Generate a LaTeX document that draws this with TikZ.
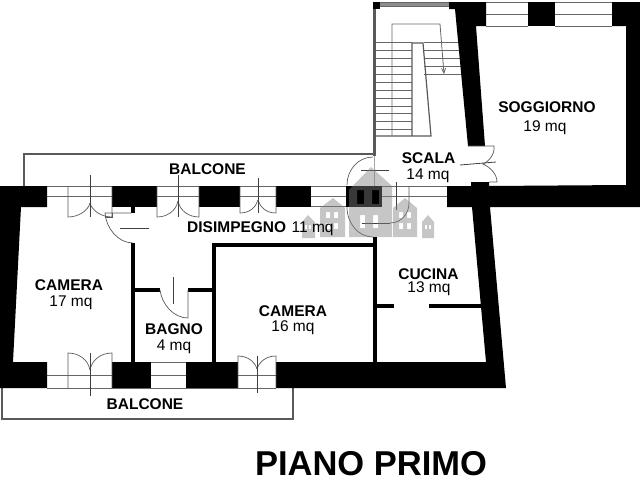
\documentclass[tikz,border=0pt]{standalone}
\usepackage{fontspec}
\setmainfont{Liberation Sans}
\usetikzlibrary{arrows}
\begin{document}
\begin{tikzpicture}[x=1pt,y=-1pt]
        \tikzset{wall/.style = {fill=black}}
        \tikzset{thinwall/.style = {line width=4pt,draw=black}}
        \tikzset{win/.style = {line width=0.8pt,draw=black!60}}
        \tikzset{balc/.style = {line width=2pt,draw=black!65}}
        \tikzset{door/.style = {line width=0.7pt,draw=black!65}}
        \tikzset{handle/.style = {line width=0.8pt,draw=black!75}}
        \tikzset{stair/.style = {line width=0.8pt,draw=black!60}}
        \tikzset{house/.style = {fill=black!50,fill opacity=0.45,even odd rule}}
        \tikzset{roomname/.style = {anchor=base,inner sep=0pt,font=\fontsize{15.5}{15.5}\selectfont\bfseries}}
        \tikzset{roomarea/.style = {anchor=base,inner sep=0pt,font=\fontsize{15.5}{15.5}\selectfont}}
        \useasboundingbox (0,0) rectangle (640,480);
        %balconies
        \draw[balc] (24,186) -- (24,154) -- (374,154);
        \draw[balc] (2,388) -- (2,419) -- (293,419) -- (293,388);
        \draw[balc,line width=3pt] (374.5,2) -- (374.5,156);
        \draw[line width=0.8pt,draw=black!35] (374.5,156) -- (374.5,186);
        %stairs
        \foreach \ty in {42,50,58,66,74,82,90,98,106,113,121,129}
            \draw[stair] (376,\ty) -- (412,\ty);
        \foreach \ty in {42,50,58,66,74}
            \draw[stair] (424,\ty) -- (461,\ty);
        \draw[balc,line width=1.2pt] (376,136) -- (431,136) -- (423,43) -- (412,43) -- (412,136);
        \draw[stair,->,>=angle 45] (392,136) -- (392,24) -- (440,24) -- (444,74);
        \fill[black!45] (380,2) rectangle (449,6);
        \draw[stair] (380,2) -- (449,2);
        \draw[stair] (380,6) -- (449,6);
        %windows top
        \draw[win] (486,2) -- (528,2) (486,14) -- (528,14) (486,26) -- (528,26);
        \draw[win] (555,2) -- (612,2) (555,14) -- (612,14) (555,26) -- (612,26);
        \draw[win] (47,186) -- (447,186);
        \draw[win] (47,196) -- (447,196);
        \draw[win] (311,206.5) -- (346,206.5);
        %windows bottom
        \draw[win] (47,375) -- (276,375);
        \draw[win] (47,388) -- (276,388);
        \draw[win] (151,362) -- (186,362);
        %walls
        \fill[wall] (0,186) -- (47,186) -- (47,207) -- (21,207) -- (13,362) -- (47,362) -- (47,388) -- (0,388) -- cycle;
        \foreach \xa/\xb in {112/157,199/240,276/311}
            \fill[wall] (\xa,186) rectangle (\xb,207);
        \foreach \xa/\xb in {112/151,186/238}
            \fill[wall] (\xa,362) rectangle (\xb,388);
        \fill[wall] (276,362) -- (486,362) -- (472,207) -- (447,207) -- (447,186) -- (471,186) -- (471,182) -- (489,182) -- (489,186)
            -- (626,185) -- (626,26) -- (612,26) -- (612,2) -- (640,2) -- (640,207) -- (490,207) -- (506,388) -- (276,388) -- cycle;
        \fill[wall] (449,2) -- (486,2) -- (486,26) -- (476,26) -- (485,146) -- (468,146) -- (455,9) -- (449,9) -- cycle;
        \fill[wall] (528,2) rectangle (555,26);
        \fill[wall] (373,2) rectangle (380,9);
        \fill[wall] (346,186) rectangle (382,207);
        \fill[wall] (131,207) rectangle (135,213);
        %inner walls
        \draw[thinwall] (133,243) -- (133,362);
        \draw[thinwall] (135,290) -- (160,290);
        \draw[thinwall] (188,290) -- (212,290);
        \draw[thinwall] (214,362) -- (214,245) -- (375,245);
        \draw[thinwall] (375,237) -- (375,362);
        \draw[thinwall] (377,305.5) -- (394,305.5);
        \draw[thinwall] (429,305.5) -- (481,305.5);
        %doors top
        \foreach \xl/\xm/\xr/\yb/\ym/\yt in {68/90/112/217/203/175,157/178/199/217/201/175,240/258/276/213/200/178}{
            \draw[door] (\xl,186) -- (\xl,\yb) .. controls (\xl+10,\yb) and (\xm-2,\yb-6) .. (\xm,\ym);
            \draw[door] (\xr,186) -- (\xr,\yb) .. controls (\xr-10,\yb) and (\xm+2,\yb-6) .. (\xm,\ym);
            \draw[handle] (\xm,\yt) -- (\xm,\yb);
        }
        %doors bottom
        \foreach \xl/\xm/\xr/\yt/\ym/\yb in {68/90/112/353/370/396,238/257/276/356/369/393}{
            \draw[door] (\xl,388) -- (\xl,\yt) .. controls (\xl+10,\yt) and (\xm-2,\yt+6) .. (\xm,\ym);
            \draw[door] (\xr,388) -- (\xr,\yt) .. controls (\xr-10,\yt) and (\xm+2,\yt+6) .. (\xm,\ym);
            \draw[handle] (\xm,\yt) -- (\xm,\yb);
        }
        %door disimpegno
        \draw[door] (131,213) -- (105,213) .. controls (106,228) and (118,243) .. (133,243);
        \draw[door] (105,217) -- (112,217) -- (112,213);
        \draw[handle] (120,228) -- (149,228);
        %door bagno
        \draw[door] (160,290) .. controls (162,305) and (174,318) .. (188,318) -- (188,290);
        \draw[handle] (173,277) -- (173,304);
        %doors scala
        \draw[door] (373,157) .. controls (358,157) and (347,170) .. (347,185);
        \draw[door] (347,207) .. controls (347,223) and (358,237) .. (373,237);
        \draw[door] (409,186) -- (409,203) .. controls (409,214) and (401,223) .. (390,223);
        \draw[handle] (361,170) -- (389,170);
        \draw[handle] (362,223) -- (390,223);
        \draw[handle] (396,182) -- (396,210);
        %door soggiorno
        \draw[door] (468,146) -- (494,146) .. controls (495,153) and (490,161) .. (483,164) .. controls (490,167) and (497,174) .. (497,182) -- (489,182);
        \draw[handle] (460,165) -- (496,162);
        %watermark
        \fill[house] (349,190) -- (349,237) -- (392,237) -- (392,186) -- (371,167) -- cycle
            (357,190) rectangle (364,204) (372,190) rectangle (379,204)
            (360,215) rectangle (365,228) (373,215) rectangle (378,228);
        \foreach \xl/\xa/\xr in {320/333/345,393/405/417}
            \fill[house] (\xl,208) -- (\xl,237) -- (\xr,237) -- (\xr,208) -- (\xa,198) -- cycle
                (\xl+6,212) rectangle (\xl+10,218) (\xl+14,212) rectangle (\xl+18,218)
                (\xl+6,223) rectangle (\xl+10,229) (\xl+14,223) rectangle (\xl+18,229);
        \foreach \xl/\xa/\xr in {422/428/434,302/308/315}
            \fill[house] (\xl,222) -- (\xl,238) -- (\xr,238) -- (\xr,222) -- (\xa,215) -- cycle
                (\xl+3,225) rectangle (\xl+5,229) (\xl+7,225) rectangle (\xl+9,229);
        %rooms
        \node[roomname] (balcone1) at (207.5,174) {BALCONE};
        \node[roomname] (soggiorno) at (547,112.7) {SOGGIORNO};
        \node[roomarea] (soggiornomq) at (545,131.7) {19 mq};
        \node[roomname] (scala) at (428.5,163) {SCALA};
        \node[roomarea] (scalamq) at (428,179) {14 mq};
        \node[roomname,anchor=base west] (disimpegno) at (187,232) {DISIMPEGNO};
        \node[roomarea,anchor=base west] (disimpegnomq) at (291.5,232) {11 mq};
        \node[roomname] (camera1) at (69,290) {CAMERA};
        \node[roomarea] (camera1mq) at (71,306.7) {17 mq};
        \node[roomname] (bagno) at (174,334) {BAGNO};
        \node[roomarea] (bagnomq) at (174,350.7) {4 mq};
        \node[roomname] (camera2) at (293,316) {CAMERA};
        \node[roomarea] (camera2mq) at (293,331) {16 mq};
        \node[roomname] (cucina) at (428.5,279) {CUCINA};
        \node[roomarea] (cucinamq) at (429,292.7) {13 mq};
        \node[roomname] (balcone2) at (145,409) {BALCONE};
        \node[anchor=base,inner sep=0pt,font=\fontsize{34.5}{34.5}\selectfont\bfseries] (piano) at (371,475.5) {PIANO PRIMO};
\end{tikzpicture}
\end{document}
